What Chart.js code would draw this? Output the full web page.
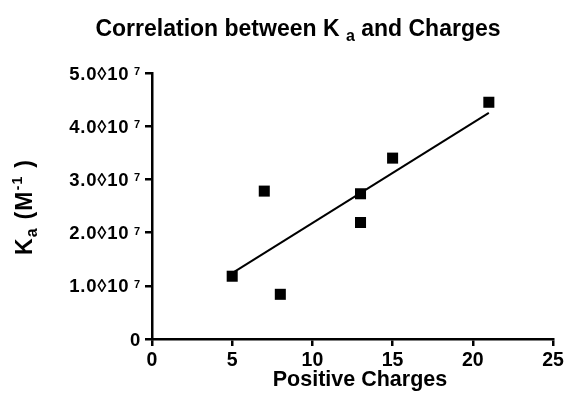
<!DOCTYPE html>
<html>
<head>
  <script src="https://cdn.jsdelivr.net/npm/chart.js"></script>
  <style>
    body { margin: 0; background: #fff; }
  </style>
</head>
<body>
  <canvas id="kaChart" width="567" height="407"></canvas>

  <script>
    // Ka vs number of positive charges
    const charges = [5, 7, 8, 13, 13, 15, 21];
    const kaValues = [1.18e7, 2.78e7, 0.84e7, 2.73e7, 2.19e7, 3.40e7, 4.45e7];

    // fitted line, end points
    const fitX = [5, 21];
    const fitY = [1.24e7, 4.25e7];

    // axis ticks
    const xTicks = [0, 5, 10, 15, 20, 25];
    const yTicks = [0, 1e7, 2e7, 3e7, 4e7, 5e7];
    const yTickMain = ['0', '1.0\u25CA10', '2.0\u25CA10', '3.0\u25CA10', '4.0\u25CA10', '5.0\u25CA10'];
    const yTickExp = ['', '7', '7', '7', '7', '7'];

    const FONT = 'Arial, "Liberation Sans", Helvetica, sans-serif';

    // draws a run of text pieces (normal / sub / sup), starting at x
    function drawPieces(ctx, pieces, x, y, spacing) {
        ctx.letterSpacing = (spacing || 0) + 'px';
        pieces.forEach(p => {
            ctx.font = 'bold ' + p.size + 'px ' + FONT;
            ctx.fillText(p.t, x, y + (p.dy || 0));
            x += ctx.measureText(p.t).width;
        });
        ctx.letterSpacing = '0px';
    }
    function piecesWidth(ctx, pieces, spacing) {
        ctx.letterSpacing = (spacing || 0) + 'px';
        let w = 0;
        pieces.forEach(p => {
            ctx.font = 'bold ' + p.size + 'px ' + FONT;
            w += ctx.measureText(p.t).width;
        });
        ctx.letterSpacing = '0px';
        return w;
    }

    const richText = {
        id: 'richText',
        afterDraw(chart) {
            const ctx = chart.ctx;
            ctx.save();
            ctx.fillStyle = '#000';
            ctx.textAlign = 'left';
            ctx.textBaseline = 'alphabetic';

            // title with subscript
            const title = [
                { t: 'Correlation between K ', size: 23 },
                { t: 'a', size: 16, dy: 5 },
                { t: ' and Charges', size: 23 }
            ];
            drawPieces(ctx, title, 298 - piecesWidth(ctx, title) / 2, 36);

            // x axis title
            const xTitle = [{ t: 'Positive Charges', size: 21.5 }];
            drawPieces(ctx, xTitle, 360 - piecesWidth(ctx, xTitle) / 2, 386);

            // y tick labels: mantissa + superscript exponent
            const ys = chart.scales.y;
            ys.ticks.forEach((tk, i) => {
                const y = ys.getPixelForValue(tk.value);
                const parts = [{ t: yTickMain[i], size: 18.5 }];
                if (yTickExp[i]) {
                    parts.push({ t: ' ', size: 14 });
                    parts.push({ t: yTickExp[i], size: 11, dy: -4.5 });
                }
                drawPieces(ctx, parts, 141 - piecesWidth(ctx, parts, 0.8), y + 6.5, 0.8);
            });

            // y axis title, rotated
            const yTitle = [
                { t: 'K', size: 23 },
                { t: 'a', size: 16, dy: 5 },
                { t: ' (M', size: 23 },
                { t: '-1', size: 14, dy: -10 },
                { t: ' )', size: 23 }
            ];
            ctx.translate(32, 207);
            ctx.rotate(-Math.PI / 2);
            drawPieces(ctx, yTitle, -piecesWidth(ctx, yTitle, 1.2) / 2, 0, 1.2);
            ctx.restore();
        }
    };

    const ctx = document.getElementById('kaChart').getContext('2d');
    new Chart(ctx, {
        type: 'scatter',
        data: {
            datasets: [{
                data: charges.map((c, i) => ({ x: c, y: kaValues[i] })),
                pointStyle: 'rect',
                pointRadius: 7.8,
                pointBorderWidth: 0,
                backgroundColor: '#000',
                borderColor: '#000'
            }, {
                type: 'line',
                data: fitX.map((x, i) => ({ x: x, y: fitY[i] })),
                borderColor: '#000',
                borderWidth: 2,
                pointRadius: 0,
                fill: false
            }]
        },
        options: {
            responsive: false,
            animation: false,
            layout: { padding: { left: 0, right: 14, top: 73, bottom: 0 } },
            plugins: {
                legend: { display: false },
                tooltip: { enabled: false }
            },
            scales: {
                x: {
                    type: 'linear',
                    min: 0,
                    max: 25,
                    afterBuildTicks: s => { s.ticks = xTicks.map(v => ({ value: v })); },
                    afterFit: s => { s.height = 68; },
                    grid: { drawOnChartArea: false, tickLength: 7, color: '#000', lineWidth: 2.5 },
                    border: { color: '#000', width: 2.5 },
                    ticks: {
                        color: '#000',
                        padding: 3,
                        maxRotation: 0,
                        font: { family: FONT, size: 19.5, weight: 'bold' }
                    }
                },
                y: {
                    min: 0,
                    max: 5e7,
                    afterBuildTicks: s => { s.ticks = yTicks.map(v => ({ value: v })); },
                    afterFit: s => { s.width = 152; },
                    grid: { drawOnChartArea: false, tickLength: 7, color: '#000', lineWidth: 2.5 },
                    border: { color: '#000', width: 2.5 },
                    ticks: { display: false }
                }
            }
        },
        plugins: [richText]
    });
  </script>
</body>
</html>
